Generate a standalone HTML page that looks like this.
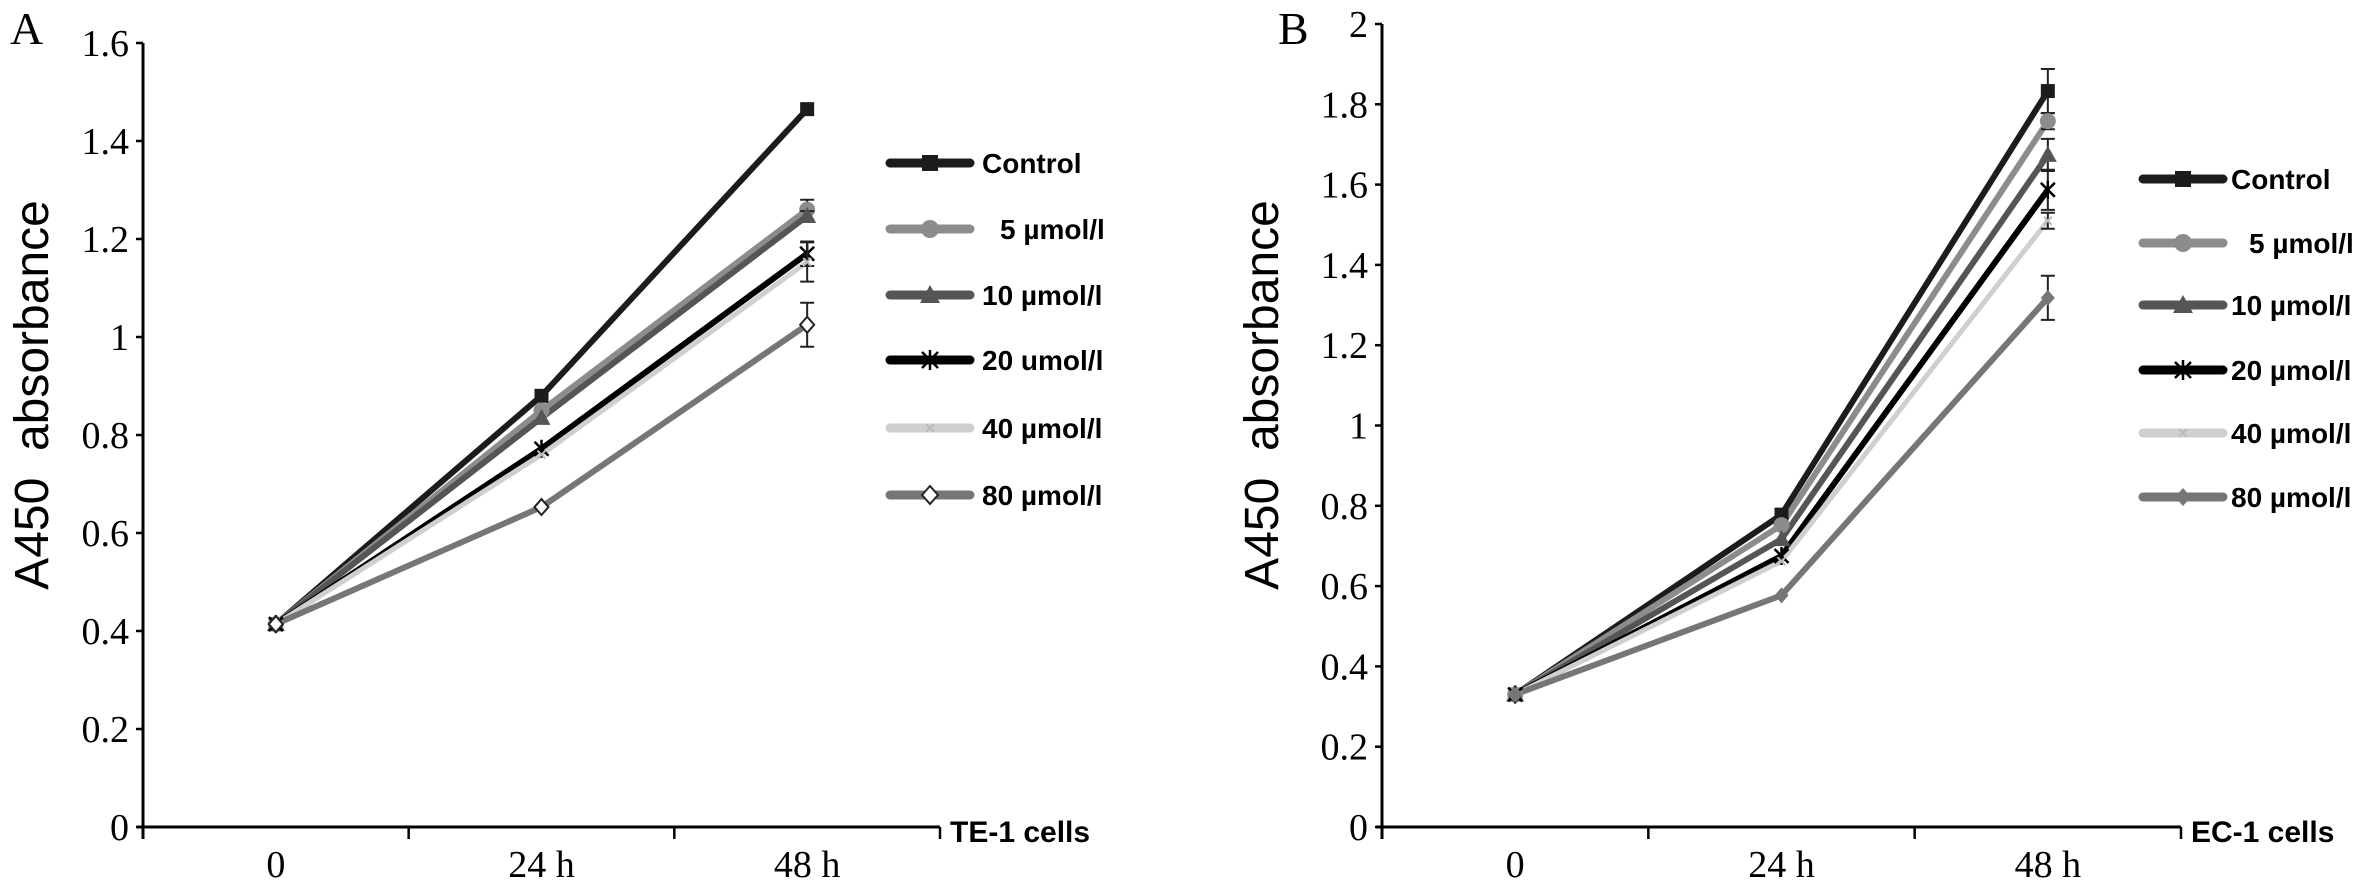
<!DOCTYPE html>
<html><head><meta charset="utf-8"><style>
html,body{margin:0;padding:0;background:#fff;}
svg{display:block;}
.tick{font-family:"Liberation Serif",serif;font-size:38px;fill:#000;}
.ttl{font-family:"Liberation Sans",sans-serif;font-size:48px;fill:#000;white-space:pre;}
.leg{font-family:"Liberation Sans",sans-serif;font-size:28px;font-weight:bold;fill:#000;white-space:pre;}
</style></head><body>
<svg id="chart" width="2376" height="885" viewBox="0 0 2376 885" xmlns="http://www.w3.org/2000/svg"></svg>
<script>
const categories = ["0", "24 h", "48 h"];
const seriesNames = ["Control", " 5 µmol/l", "10 µmol/l", "20 umol/l", "40 µmol/l", "80 µmol/l"];
const seriesNamesB = ["Control", " 5 µmol/l", "10 µmol/l", "20 µmol/l", "40 µmol/l", "80 µmol/l"];
const aControl = [0.414, 0.88, 1.465];
const a5 = [0.414, 0.85, 1.26];
const a10 = [0.414, 0.835, 1.247];
const a20 = [0.414, 0.772, 1.17];
const a40 = [0.414, 0.76, 1.153];
const a80 = [0.414, 0.653, 1.025];
const aErr = [[0,0,0],[0,0,0.02],[0,0,0.01],[0,0,0.025],[0,0,0.04],[0,0,0.045]];
const bControl = [0.33, 0.778, 1.833];
const b5 = [0.33, 0.752, 1.758];
const b10 = [0.33, 0.717, 1.674];
const b20 = [0.33, 0.675, 1.587];
const b40 = [0.33, 0.662, 1.51];
const b80 = [0.33, 0.577, 1.318];
const bErr = [[0,0,0.055],[0,0,0.02],[0,0,0.04],[0,0,0.05],[0,0,0.02],[0,0,0.055]];
const aTicks = ["0","0.2","0.4","0.6","0.8","1","1.2","1.4","1.6"];
const bTicks = ["0","0.2","0.4","0.6","0.8","1","1.2","1.4","1.6","1.8","2"];

const NS = "http://www.w3.org/2000/svg";
const svg = document.getElementById("chart");
function mk(tag, attrs, parent){ const e=document.createElementNS(NS,tag); for(const k in attrs) e.setAttribute(k,attrs[k]); (parent||svg).appendChild(e); return e; }

const colors = ["#1c1c1c","#8c8c8c","#555555","#000000","#cfcfcf","#767676"];
const widths = [6,6,6,6,5,6];

function marker(g, type, x, y, col, s, panel){
  let m;
  if(type===0){ m=mk("rect",{x:x-s/2,y:y-s/2,width:s,height:s,fill:col},g); }
  else if(type===1){ m=mk("circle",{cx:x,cy:y,r:s/2+1,fill:col},g); }
  else if(type===2){ m=mk("polygon",{points:`${x},${y-s/2-2} ${x-s/2-2},${y+s/2} ${x+s/2+2},${y+s/2}`,fill:col},g); }
  else if(type===3){ m=mk("path",{d:`M${x-s/2},${y-s/2}L${x+s/2},${y+s/2}M${x-s/2},${y+s/2}L${x+s/2},${y-s/2}M${x},${y-s/2-2}L${x},${y+s/2+2}`,stroke:col,"stroke-width":2.5,fill:"none"},g); }
  else if(type===4){ m=mk("path",{d:`M${x-4},${y-4}L${x+4},${y+4}M${x-4},${y+4}L${x+4},${y-4}`,stroke:"#bbb","stroke-width":2,fill:"none"},g); }
  else { if(panel==="a") m=mk("polygon",{points:`${x},${y-s/2-1} ${x+s/2},${y} ${x},${y+s/2+1} ${x-s/2},${y}`,fill:"#fff",stroke:"#222","stroke-width":2},g);
         else m=mk("polygon",{points:`${x},${y-s/2-1} ${x+s/2},${y} ${x},${y+s/2+1} ${x-s/2},${y}`,fill:col},g); }
  
  
}

function panel(cfg){
  const g = mk("g",{});
  
  
  const yS = v => cfg.y0 - (v/cfg.ymax)*(cfg.y0-cfg.yTop);
  const band = (cfg.xEnd-cfg.x0)/categories.length;
  const xS = i => cfg.x0 + band*(i+0.5);
  const ya = mk("line",{x1:cfg.x0,y1:yS(cfg.ymax),x2:cfg.x0,y2:cfg.y0+12,stroke:"#000","stroke-width":3},g);
   
  const xa = mk("line",{x1:cfg.x0-6,y1:cfg.y0,x2:cfg.xEnd,y2:cfg.y0,stroke:"#000","stroke-width":3},g);
   
  cfg.ticks.forEach(t=>{
    const v=parseFloat(t), y=yS(v);
    mk("line",{x1:cfg.x0-7,y1:y,x2:cfg.x0,y2:y,stroke:"#000","stroke-width":2.5},g);
    const tx=mk("text",{x:cfg.x0-14,y:y+13,"text-anchor":"end",class:"tick"},g);
    tx.textContent=t;
     
  });
  for(let i=1;i<=categories.length;i++){
    const x=cfg.x0+band*i;
    mk("line",{x1:x,y1:cfg.y0,x2:x,y2:cfg.y0+12,stroke:"#000","stroke-width":2.5},g);
  }
  categories.forEach((c,i)=>{
    const tx=mk("text",{x:xS(i),y:cfg.y0+50,"text-anchor":"middle",class:"tick"},g);
    tx.textContent=c;
     
  });
  const lt=mk("text",{x:cfg.letterX,y:44,class:"tick"},g);
  lt.setAttribute("style","font-size:46px");
  lt.textContent=cfg.letter;
   
  const yt=mk("text",{x:0,y:0,"text-anchor":"middle",class:"ttl",transform:`translate(${cfg.titleX},395) rotate(-90)`},g);
  yt.textContent="A450  absorbance";
   
  const xt=mk("text",{x:cfg.xEnd+10,y:cfg.y0+15,class:"leg",style:"font-size:30px"},g);
  xt.textContent=cfg.cellLabel;
   
  cfg.series.forEach((vals,si)=>{
    const pts=vals.map((v,i)=>`${xS(i)},${yS(v)}`).join(" ");
    const pl=mk("polyline",{points:pts,fill:"none",stroke:colors[si],"stroke-width":widths[si],"stroke-linejoin":"round"},g);
     
  });
  cfg.series.forEach((vals,si)=>{
    vals.forEach((v,i)=>{
      const e=cfg.err[si][i];
      if(e>0){
        const x=xS(i);
        const eb=mk("path",{d:`M${x},${yS(v+e)}L${x},${yS(v-e)}M${x-7},${yS(v+e)}L${x+7},${yS(v+e)}M${x-7},${yS(v-e)}L${x+7},${yS(v-e)}`,stroke:"#222","stroke-width":2,fill:"none"},g);
         
      }
      marker(g,si,xS(i),yS(v),colors[si],14,cfg.id);
    });
  });
  cfg.names.forEach((n,si)=>{
    const y=cfg.legY[si];
    const lg=mk("g",{},g);
     
    mk("line",{x1:cfg.legX,y1:y,x2:cfg.legX+80,y2:y,stroke:colors[si],"stroke-width":9,"stroke-linecap":"round"},lg);
    marker(lg,si,cfg.legX+40,y,colors[si],16,cfg.id);
    const t=mk("text",{x:si===1?cfg.legX+cfg.textOff+18:cfg.legX+cfg.textOff,y:y+10,class:"leg"},lg);
    t.textContent=n.trim();
  });
}

panel({id:"a",letter:"A",letterX:10,titleX:48,x0:143,xEnd:940,y0:827,yTop:43,ymax:1.6,ticks:aTicks,
  series:[aControl,a5,a10,a20,a40,a80],err:aErr,names:seriesNames,cellLabel:"TE-1 cells",
  legX:890,textOff:92,legY:[163,229,295,360,428,495]});
panel({id:"b",letter:"B",letterX:1278,titleX:1278,x0:1382,xEnd:2181,y0:827,yTop:24,ymax:2,ticks:bTicks,
  series:[bControl,b5,b10,b20,b40,b80],err:bErr,names:seriesNamesB,cellLabel:"EC-1 cells",
  legX:2143,textOff:88,legY:[179,243,305,370,433,497]});
</script>
</body></html>
